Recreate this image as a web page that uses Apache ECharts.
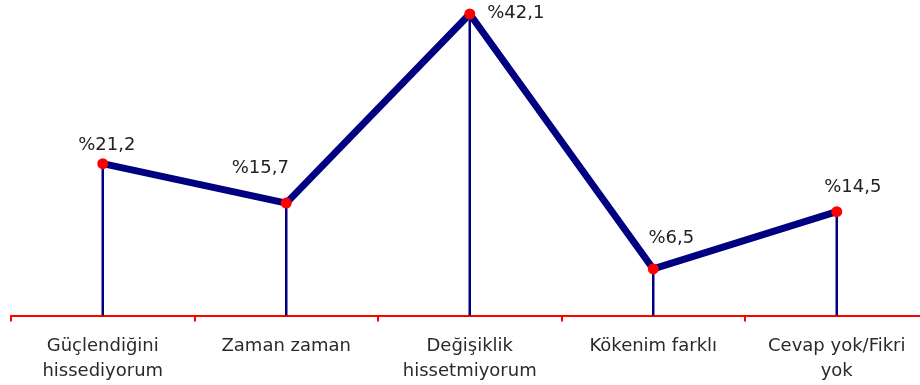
<!DOCTYPE html>
<html>
<head>
<meta charset="utf-8">
<script src="https://cdn.jsdelivr.net/npm/echarts@6/dist/echarts.min.js"></script>
<style>
  html, body { margin: 0; padding: 0; background: #fff; }
  #chart { width: 920px; height: 385px; }
</style>
</head>
<body>
<div id="chart"></div>
<script>
const categories = ['Güçlendiğini\nhissediyorum', 'Zaman zaman', 'Değişiklik\nhissetmiyorum', 'Kökenim farklı', 'Cevap yok/Fikri\nyok'];
const values = [21.2, 15.7, 42.1, 6.5, 14.5];
// label offsets from the dot (px)
const labelOffsets = [[4, -18], [-26, -35], [46, -1], [18, -31], [16, -24]];

const chart = echarts.init(document.getElementById('chart'));

const lineData = values.map((v, i) => ({
  value: v,
  label: { offset: labelOffsets[i] }
}));

chart.setOption({
  animation: false,
  grid: { left: 11, width: 917.5, top: 14, bottom: 69.5, outerBoundsMode: 'none' },
  xAxis: {
    type: 'category',
    data: categories,
    boundaryGap: true,
    axisLine: { lineStyle: { color: '#ff0000', width: 2 } },
    axisTick: { show: true, length: 6, lineStyle: { color: '#ff0000', width: 2 } },
    axisLabel: {
      color: '#2a2a2a',
      fontFamily: 'DejaVu Sans',
      fontSize: 18,
      lineHeight: 25,
      margin: 18,
      interval: 0
    }
  },
  yAxis: {
    type: 'value',
    min: 0,
    max: 'dataMax',
    show: false
  },
  series: [
    {
      type: 'bar',
      data: values,
      barWidth: 2.5,
      itemStyle: { color: '#000080' },
      silent: true
    },
    {
      type: 'line',
      data: lineData,
      lineStyle: { color: '#000080', width: 7 },
      itemStyle: { color: '#ff0000' },
      symbol: 'circle',
      symbolSize: 11,
      z: 5,
      label: {
        show: true,
        position: 'inside',
        align: 'center',
        verticalAlign: 'middle',
        color: '#222',
        fontFamily: 'DejaVu Sans',
        fontSize: 18,
        formatter: p => '%' + String(p.value).replace('.', ',')
      }
    }
  ]
});
</script>
</body>
</html>
